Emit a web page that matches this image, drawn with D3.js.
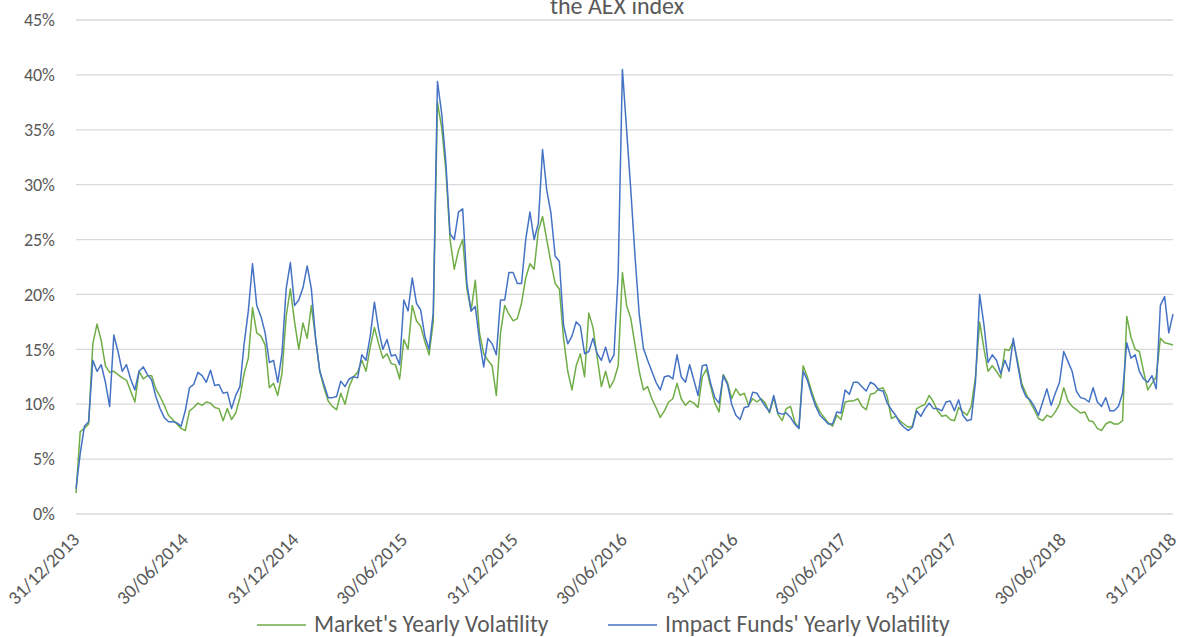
<!DOCTYPE html>
<html>
<head>
<meta charset="utf-8">
<script src="https://cdn.jsdelivr.net/npm/d3@7"></script>
<style>
  html, body { margin: 0; padding: 0; background: #fff; }
  svg { display: block; }
</style>
</head>
<body>
<svg id="chart" width="1183" height="637"></svg>
<script>
// Yearly (rolling) volatility, weekly samples from 31/12/2013 to 31/12/2018, in %
const startDate = "2013-12-31";
const endDate = "2018-12-31";

const marketVol = [
  1.9, 7.5, 7.8, 8.2, 15.5, 17.3, 15.8, 13.5, 12.9, 13.0,
  12.7, 12.4, 12.2, 11.2, 10.2, 13.0, 12.3, 12.6, 12.6, 11.4,
  10.7, 9.9, 9.0, 8.6, 8.2, 7.8, 7.6, 9.4, 9.7, 10.1,
  9.9, 10.2, 10.1, 9.7, 9.6, 8.5, 9.6, 8.6, 9.2, 10.6,
  12.8, 14.2, 18.8, 16.5, 16.2, 15.4, 11.5, 11.9, 10.8, 12.8,
  18.0, 20.5, 17.5, 15.0, 17.4, 16.0, 19.0, 16.0, 13.0, 11.5,
  10.3, 9.8, 9.5, 11.0, 10.0, 11.6, 12.5, 12.9, 14.0, 13.0,
  15.2, 17.0, 15.5, 14.2, 14.6, 13.7, 13.6, 12.3, 15.9, 15.0,
  19.0, 17.6, 17.1, 15.7, 14.5, 17.5, 37.5, 35.2, 31.3, 25.0,
  22.3, 24.0, 25.0, 20.5, 18.5, 21.3, 16.5, 14.6, 14.0, 13.5,
  10.8, 16.5, 19.0, 18.2, 17.6, 17.8, 19.2, 21.5, 22.8, 22.3,
  25.8, 27.1, 25.0, 22.9, 21.0, 20.5, 16.0, 13.0, 11.3, 13.5,
  14.6, 12.5, 18.3, 17.0, 14.3, 11.6, 13.0, 11.5, 12.2, 13.5,
  22.0, 19.0, 17.8, 15.4, 13.0, 11.3, 11.6, 10.5, 9.7, 8.8,
  9.4, 10.2, 10.5, 11.9, 10.5, 9.9, 10.3, 10.1, 9.7, 12.5,
  13.2, 11.6, 10.1, 9.3, 12.7, 12.0, 10.5, 11.4, 10.8, 11.0,
  9.9, 10.5, 10.2, 10.5, 10.1, 9.2, 10.6, 9.1, 8.5, 9.6,
  9.8, 8.4, 7.8, 13.5, 12.5, 11.2, 10.1, 9.3, 8.8, 8.3,
  8.0, 9.0, 8.6, 10.2, 10.3, 10.3, 10.5, 9.8, 9.5, 10.9,
  11.0, 11.4, 11.5, 10.7, 8.7, 8.9, 8.5, 8.2, 7.9, 8.0,
  9.6, 9.8, 10.0, 10.8, 10.2, 9.4, 8.9, 9.0, 8.6, 8.5,
  9.7, 9.3, 9.0, 9.8, 12.5, 17.5, 15.1, 13.0, 13.5, 13.0,
  12.4, 15.0, 14.9, 15.7, 14.0, 11.9, 11.0, 10.2, 9.5, 8.7,
  8.5, 9.0, 8.8, 9.3, 10.0, 11.5, 10.3, 9.8, 9.5, 9.2,
  9.3, 8.5, 8.4, 7.8, 7.6, 8.2, 8.4, 8.2, 8.2, 8.5,
  18.0, 16.1, 15.0, 14.8, 13.0, 11.3, 11.9, 12.5, 16.0, 15.6,
  15.5, 15.4
];

const impactVol = [
  2.3, 5.5, 8.0, 8.4, 14.0, 13.0, 13.6, 12.0, 9.8, 16.3,
  14.8, 13.0, 13.6, 12.3, 11.3, 13.0, 13.4, 12.7, 12.2, 10.7,
  9.6, 8.8, 8.4, 8.4, 8.3, 8.0, 9.4, 11.5, 11.8, 12.9,
  12.6, 12.0, 13.1, 11.7, 11.8, 11.0, 11.1, 9.6, 10.8, 11.6,
  15.5, 18.5, 22.8, 19.0, 18.0, 16.5, 13.8, 14.0, 12.0, 14.6,
  20.5, 22.9, 19.0, 19.5, 20.6, 22.6, 20.5, 16.0, 13.0, 11.8,
  10.6, 10.6, 10.7, 12.1, 11.6, 12.3, 12.5, 12.4, 14.5, 14.0,
  16.2, 19.3, 16.8, 15.0, 15.9, 14.4, 14.5, 13.6, 19.5, 18.5,
  21.5, 19.2, 18.6, 16.2, 15.0, 18.3, 39.4, 36.5, 32.0, 25.5,
  25.0, 27.5, 27.8, 21.0, 18.5, 18.9, 15.8, 13.4, 16.0, 15.5,
  14.5, 19.5, 19.5, 22.0, 22.0, 21.0, 21.0, 25.0, 27.5, 25.0,
  26.5, 33.2, 29.5, 27.4, 23.5, 23.0, 17.2, 15.5, 16.2, 17.5,
  17.1, 14.6, 14.8, 16.0, 14.6, 14.0, 15.2, 13.8, 14.5, 22.0,
  40.5, 35.0, 29.5, 23.5, 18.2, 15.1, 14.0, 13.0, 12.0, 11.3,
  12.5, 12.6, 12.3, 14.5, 12.5, 12.0, 13.6, 12.2, 10.8, 13.5,
  13.6, 11.9, 10.6, 10.1, 12.6, 11.8, 10.0, 9.0, 8.6, 9.7,
  9.8, 11.1, 11.0, 10.4, 9.8, 9.3, 10.8, 9.2, 9.1, 9.2,
  8.8, 8.2, 7.8, 13.0, 12.2, 10.9, 9.8, 9.0, 8.6, 8.2,
  8.2, 9.3, 9.2, 11.3, 10.9, 12.0, 12.0, 11.6, 11.2, 12.0,
  11.8, 11.3, 11.2, 10.1, 9.5, 9.0, 8.3, 7.9, 7.6, 7.9,
  9.4, 8.9, 9.6, 10.1, 9.6, 9.6, 9.4, 10.2, 10.3, 9.4,
  10.4, 9.0, 8.5, 8.6, 12.0, 20.0, 17.3, 13.8, 14.5, 14.0,
  12.8, 14.0, 13.0, 16.0, 13.7, 11.6, 10.7, 10.4, 9.8, 9.0,
  10.2, 11.4, 9.9, 11.0, 12.0, 14.8, 13.9, 13.0, 11.2, 10.6,
  10.5, 10.2, 11.5, 10.2, 9.8, 10.6, 9.4, 9.4, 9.8, 11.0,
  15.6, 14.2, 14.5, 13.0, 12.3, 12.0, 12.6, 11.4, 19.0, 19.8,
  16.5, 18.2
];

const yTicks = [0, 5, 10, 15, 20, 25, 30, 35, 40, 45];
const xTickDates = [
  "2013-12-31", "2014-06-30", "2014-12-31", "2015-06-30", "2015-12-31",
  "2016-06-30", "2016-12-31", "2017-06-30", "2017-12-31", "2018-06-30", "2018-12-31"
];
const seriesNames = ["Market's Yearly Volatility", "Impact Funds' Yearly Volatility"];
const seriesColors = ["#70AD47", "#4472C4"];
const chartTitle = "the AEX index";

const parse = d3.utcParse("%Y-%m-%d");
const fmt = d3.utcFormat("%d/%m/%Y");
const t0 = parse(startDate), t1 = parse(endDate);

// Samples are evenly spaced between the first and last date
function withDates(values) {
  const n = values.length;
  return values.map((v, i) => ({
    date: new Date(+t0 + (t1 - t0) * i / (n - 1)),
    value: v
  }));
}
const series = [withDates(marketVol), withDates(impactVol)];

const svg = d3.select("#chart");
const margin = { left: 76, right: 10, top: 20, bottom: 123 };
const W = 1183, H = 637;

const x = d3.scaleUtc().domain([t0, t1]).range([margin.left, W - margin.right]);
const y = d3.scaleLinear().domain([0, 45]).range([H - margin.bottom, margin.top]);

const font = "Calibri, Carlito, Lato, 'Open Sans', sans-serif";
const textColor = "#595959";

// Title (its top runs past the upper edge)
svg.append("text")
  .attr("x", 617).attr("y", 14)
  .attr("text-anchor", "middle")
  .attr("font-family", font)
  .attr("font-size", 24)
  .attr("fill", textColor)
  .text(chartTitle);

// Horizontal gridlines
svg.append("g")
  .selectAll("line")
  .data(yTicks)
  .join("line")
  .attr("x1", x.range()[0]).attr("x2", x.range()[1])
  .attr("y1", d => y(d)).attr("y2", d => y(d))
  .attr("stroke", "#D9D9D9")
  .attr("stroke-width", 1.3);

// Y axis labels
const yAxis = d3.axisLeft(y).tickValues(yTicks).tickFormat(d => d + "%").tickSize(0).tickPadding(21);
const gy = svg.append("g").attr("transform", `translate(${margin.left},0)`).call(yAxis);
gy.select(".domain").remove();
gy.selectAll("text")
  .attr("font-family", font)
  .attr("font-size", 18)
  .attr("fill", textColor);

// X axis labels, rotated
const xAxis = d3.axisBottom(x).tickValues(xTickDates.map(parse)).tickFormat(fmt).tickSize(0);
const gx = svg.append("g").attr("transform", `translate(0,${y(0)})`).call(xAxis);
gx.select(".domain").remove();
gx.selectAll("text")
  .attr("font-family", font)
  .attr("font-size", 19)
  .attr("fill", textColor)
  .attr("text-anchor", "end")
  .attr("y", 0)
  .attr("dy", 0)
  .attr("transform", "translate(4,27) rotate(-45)");

// Lines
const line = d3.line().x(d => x(d.date)).y(d => y(d.value));
svg.append("g")
  .selectAll("path")
  .data(series)
  .join("path")
  .attr("d", line)
  .attr("fill", "none")
  .attr("stroke", (d, i) => seriesColors[i])
  .attr("stroke-width", 1.5)
  .attr("stroke-linejoin", "round");

// Legend
const legendItems = [
  { x: 257, name: seriesNames[0], color: seriesColors[0] },
  { x: 608, name: seriesNames[1], color: seriesColors[1] }
];
const lg = svg.append("g").selectAll("g").data(legendItems).join("g")
  .attr("transform", d => `translate(${d.x},625)`);
lg.append("line")
  .attr("x1", 0).attr("x2", 49).attr("y1", 0).attr("y2", 0)
  .attr("stroke", d => d.color).attr("stroke-width", 1.5);
lg.append("text")
  .attr("x", 57).attr("y", 7)
  .attr("font-family", font)
  .attr("font-size", 23.5)
  .attr("fill", textColor)
  .text(d => d.name);
</script>
</body>
</html>
